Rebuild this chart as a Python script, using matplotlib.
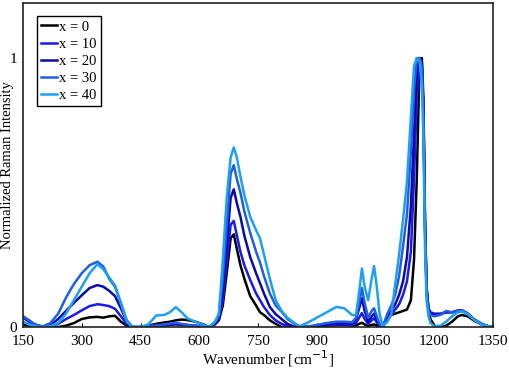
import numpy as np
import matplotlib
matplotlib.use('Agg')
import matplotlib.pyplot as plt

# wavenumber grid [cm-1], shared by all spectra
wn = [150, 165, 180, 200, 220, 240, 260, 280, 300, 320, 340, 355, 370, 385, 400, 415, 430, 450,
      470, 490, 510, 525, 540, 555, 570, 590, 610, 625, 640, 650, 660, 670, 680, 688, 696, 705,
      715, 730, 745, 755, 765, 780, 795, 810, 825, 840, 855, 875, 900, 925, 950, 970, 990, 1000,
      1008, 1015, 1022, 1031, 1040, 1046, 1053, 1060, 1068, 1080, 1090, 1100, 1110, 1120, 1130,
      1140, 1148, 1155, 1162, 1168, 1172, 1176, 1180, 1185, 1190, 1200, 1215, 1230, 1245, 1260,
      1270, 1285, 1300, 1320, 1340, 1350]

x0 = [0.01, 0.005, 0.0, 0.0, 0.0, 0.0, 0.005, 0.015, 0.03, 0.036, 0.038, 0.035, 0.04, 0.042, 0.02, 0.005, 0, 0,
      0.005, 0.012, 0.017, 0.02, 0.025, 0.028, 0.026, 0.02, 0.01, 0.0, 0.01, 0.025, 0.08, 0.2, 0.33, 0.345, 0.29, 0.23,
      0.18, 0.115, 0.08, 0.055, 0.045, 0.025, 0.012, 0.0, 0, 0, 0, 0, 0.003, 0.005, 0.008, 0.008, 0.005, 0.006,
      0.012, 0.016, 0.01, 0.004, 0.008, 0.01, 0.006, 0.002, 0, 0.03, 0.045, 0.05, 0.055, 0.06, 0.065,
      0.1, 0.25, 0.55, 0.97, 1.0, 0.85, 0.4, 0.15, 0.06, 0.03, 0.005, 0, 0.005, 0.02, 0.04,
      0.045, 0.04, 0.025, 0.01, 0.0, 0.0]

x10 = [0.035, 0.02, 0.008, 0.0, 0.003, 0.012, 0.03, 0.045, 0.062, 0.078, 0.085, 0.082, 0.078, 0.068, 0.04, 0.012, 0, 0,
       0.002, 0.005, 0.008, 0.01, 0.012, 0.01, 0.008, 0.005, 0.002, 0, 0.012, 0.03, 0.1, 0.24, 0.38, 0.395, 0.34, 0.28,
       0.23, 0.175, 0.125, 0.1, 0.075, 0.045, 0.025, 0.012, 0.005, 0, 0, 0, 0.003, 0.008, 0.01, 0.01, 0.008, 0.015,
       0.035, 0.052, 0.03, 0.012, 0.025, 0.033, 0.018, 0.005, 0, 0.035, 0.05, 0.065, 0.085, 0.12, 0.17,
       0.28, 0.55, 0.85, 1.0, 0.98, 0.8, 0.4, 0.15, 0.07, 0.055, 0.05, 0.05, 0.055, 0.055, 0.06,
       0.062, 0.05, 0.03, 0.012, 0.002, 0]

x20 = [0.04, 0.025, 0.01, 0.002, 0.008, 0.03, 0.06, 0.09, 0.118, 0.145, 0.156, 0.15, 0.135, 0.115, 0.07, 0.02, 0, 0,
       0.002, 0.004, 0.006, 0.008, 0.01, 0.008, 0.006, 0.004, 0.002, 0, 0.015, 0.04, 0.13, 0.3, 0.48, 0.512, 0.46, 0.41,
       0.34, 0.26, 0.2, 0.163, 0.125, 0.075, 0.048, 0.03, 0.012, 0.003, 0, 0, 0.005, 0.01, 0.015, 0.015, 0.012, 0.03,
       0.07, 0.107, 0.06, 0.02, 0.04, 0.05, 0.028, 0.008, 0, 0.04, 0.06, 0.085, 0.12, 0.17, 0.26,
       0.45, 0.72, 0.95, 1.0, 0.98, 0.8, 0.38, 0.14, 0.065, 0.05, 0.045, 0.048, 0.055, 0.055, 0.062,
       0.063, 0.05, 0.03, 0.012, 0.002, 0]

x30 = [0.04, 0.025, 0.01, 0.002, 0.015, 0.05, 0.11, 0.16, 0.2, 0.23, 0.243, 0.225, 0.18, 0.15, 0.088, 0.025, 0, 0,
       0.003, 0.006, 0.01, 0.013, 0.016, 0.012, 0.008, 0.005, 0.002, 0, 0.018, 0.045, 0.18, 0.38, 0.57, 0.602, 0.55, 0.5,
       0.43, 0.35, 0.28, 0.24, 0.19, 0.125, 0.08, 0.057, 0.03, 0.015, 0.003, 0.002, 0.008, 0.015, 0.02, 0.02, 0.018, 0.035,
       0.09, 0.145, 0.09, 0.035, 0.06, 0.07, 0.04, 0.012, 0, 0.05, 0.08, 0.12, 0.19, 0.3, 0.42,
       0.65, 0.88, 1.0, 1.0, 0.97, 0.78, 0.36, 0.13, 0.06, 0.045, 0.04, 0.045, 0.06, 0.055, 0.06,
       0.062, 0.05, 0.03, 0.012, 0.002, 0]

x40 = [0.02, 0.01, 0.003, 0, 0.003, 0.015, 0.05, 0.1, 0.15, 0.2, 0.234, 0.215, 0.185, 0.155, 0.09, 0.02, 0, 0,
       0.01, 0.043, 0.045, 0.055, 0.074, 0.055, 0.032, 0.02, 0.008, 0, 0.02, 0.05, 0.25, 0.48, 0.63, 0.668, 0.63, 0.56,
       0.49, 0.41, 0.36, 0.33, 0.27, 0.18, 0.1, 0.06, 0.035, 0.018, 0.003, 0.015, 0.035, 0.055, 0.075, 0.07, 0.045, 0.045,
       0.13, 0.218, 0.15, 0.1, 0.18, 0.227, 0.15, 0.05, 0.003, 0.02, 0.045, 0.16, 0.27, 0.4, 0.54,
       0.78, 0.97, 1.0, 0.99, 0.9, 0.7, 0.3, 0.1, 0.04, 0.015, 0.003, 0.005, 0.02, 0.04, 0.055,
       0.058, 0.048, 0.028, 0.01, 0.002, 0]

labels = ['x = 0', 'x = 10', 'x = 20', 'x = 30', 'x = 40']
colors = ['#000000', '#1a1aef', '#0b0ba8', '#1f5fe6', '#1ea0f0']
xticks = [150, 300, 450, 600, 750, 900, 1050, 1200, 1350]

plt.rcParams['font.family'] = 'Liberation Serif'
fs = 11

fig = plt.figure(figsize=(5.1, 3.7), dpi=100)
ax = fig.add_axes([0.045, 0.116, 0.922, 0.876])

for y, lab, c in zip([x0, x10, x20, x30, x40], labels, colors):
    ax.plot(wn, y, color=c, lw=1.8, label=lab)

ax.set_xlim(150, 1350)
ax.set_ylim(0, 1.205)
ax.set_xticks(xticks)
ax.set_yticks([0, 1])
ax.set_yticklabels(['0', '1'])
ax.tick_params(axis='x', direction='in', length=3, labelsize=fs, pad=6)
ax.tick_params(axis='y', direction='in', length=0, labelsize=fs, pad=4)
ax.set_xlabel('Wavenumber [cm$^{-1}$]', fontsize=fs, va='center')
ax.xaxis.set_label_coords(0.521, -0.097)
ax.set_ylabel('Normalized Raman Intensity', fontsize=10.5, va='center')
ax.yaxis.set_label_coords(-0.032, 0.5)
for s in ax.spines.values():
    s.set_linewidth(1.2)
    s.set_color('#222222')

leg = ax.legend(loc='upper left', fontsize=10.5, handlelength=1.1, handletextpad=0.1,
                fancybox=False, framealpha=1, edgecolor='black', borderpad=0.3,
                labelspacing=0.27, borderaxespad=0, bbox_to_anchor=(0.03, 0.96))
leg.get_frame().set_linewidth(1.0)

fig.savefig('out.png', dpi=100)
